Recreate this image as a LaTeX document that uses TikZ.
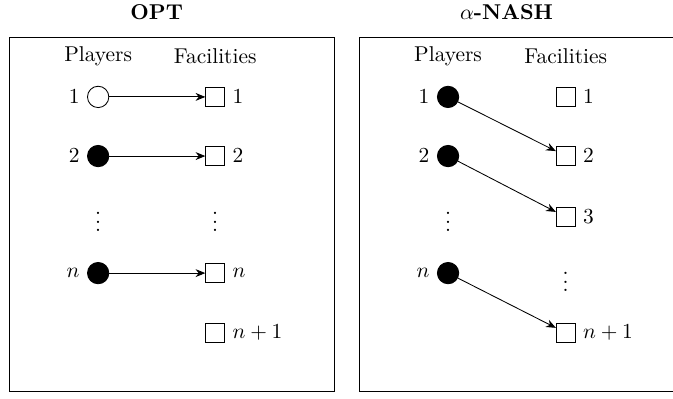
\documentclass[tikz,border=0pt]{standalone}
\usetikzlibrary{arrows.meta}

\tikzset{
    giocatore/.style={circle, draw, fill=black, minimum size=0.35cm, inner sep=0pt},
    libero/.style={circle, draw, fill=white, minimum size=0.35cm, inner sep=0pt},
    risorsa/.style={rectangle, draw, minimum size=0.31cm, inner sep=0pt},
    scelta/.style={-{Stealth[length=1.6mm,width=1.3mm]}, thin}
}

\begin{document}
\begin{tikzpicture}
    \useasboundingbox (0,0) rectangle (11.04,6.53);

    % Cornici
    \draw (0.15,0.11) rectangle (5.48,5.92);
    \draw (5.90,0.11) rectangle (11.3,5.92);

    % Titoli
    \node at (2.57,6.33) {\textbf{OPT}};
    \node at (8.31,6.33) {\textbf{$\alpha$-NASH}};

    % OPT: intestazioni
    \node at (1.61,5.61) {Players};
    \node at (3.53,5.61) {Facilities};

    % OPT: giocatori
    \node[libero, label=left:$1$] (p1) at (1.61,4.94) {};
    \node[giocatore, label=left:$2$] (p2) at (1.61,3.97) {};
    \node (pdots) at (1.61,2.99) {$\vdots$};
    \node[giocatore, label=left:$n$] (pn) at (1.61,2.05) {};

    % OPT: risorse
    \node[risorsa, label=right:$1$] (f1) at (3.53,4.94) {};
    \node[risorsa, label=right:$2$] (f2) at (3.53,3.97) {};
    \node (fdots) at (3.53,2.99) {$\vdots$};
    \node[risorsa, label=right:$n$] (fn) at (3.53,2.05) {};
    \node[risorsa, label=right:$n+1$] (fm) at (3.53,1.07) {};

    \draw[scelta] (p1) -- (f1);
    \draw[scelta] (p2) -- (f2);
    \draw[scelta] (pn) -- (fn);

    % NASH: intestazioni
    \node at (7.35,5.61) {Players};
    \node at (9.28,5.61) {Facilities};

    % NASH: giocatori
    \node[giocatore, label=left:$1$] (q1) at (7.35,4.94) {};
    \node[giocatore, label=left:$2$] (q2) at (7.35,3.97) {};
    \node (qdots) at (7.35,2.99) {$\vdots$};
    \node[giocatore, label=left:$n$] (qn) at (7.35,2.05) {};

    % NASH: risorse
    \node[risorsa, label=right:$1$] (g1) at (9.28,4.94) {};
    \node[risorsa, label=right:$2$] (g2) at (9.28,3.97) {};
    \node[risorsa, label=right:$3$] (g3) at (9.28,2.97) {};
    \node (gdots) at (9.28,2.01) {$\vdots$};
    \node[risorsa, label=right:$n+1$] (gm) at (9.28,1.07) {};

    \draw[scelta] (q1) -- (g2);
    \draw[scelta] (q2) -- (g3);
    \draw[scelta] (qn) -- (gm);
\end{tikzpicture}
\end{document}
